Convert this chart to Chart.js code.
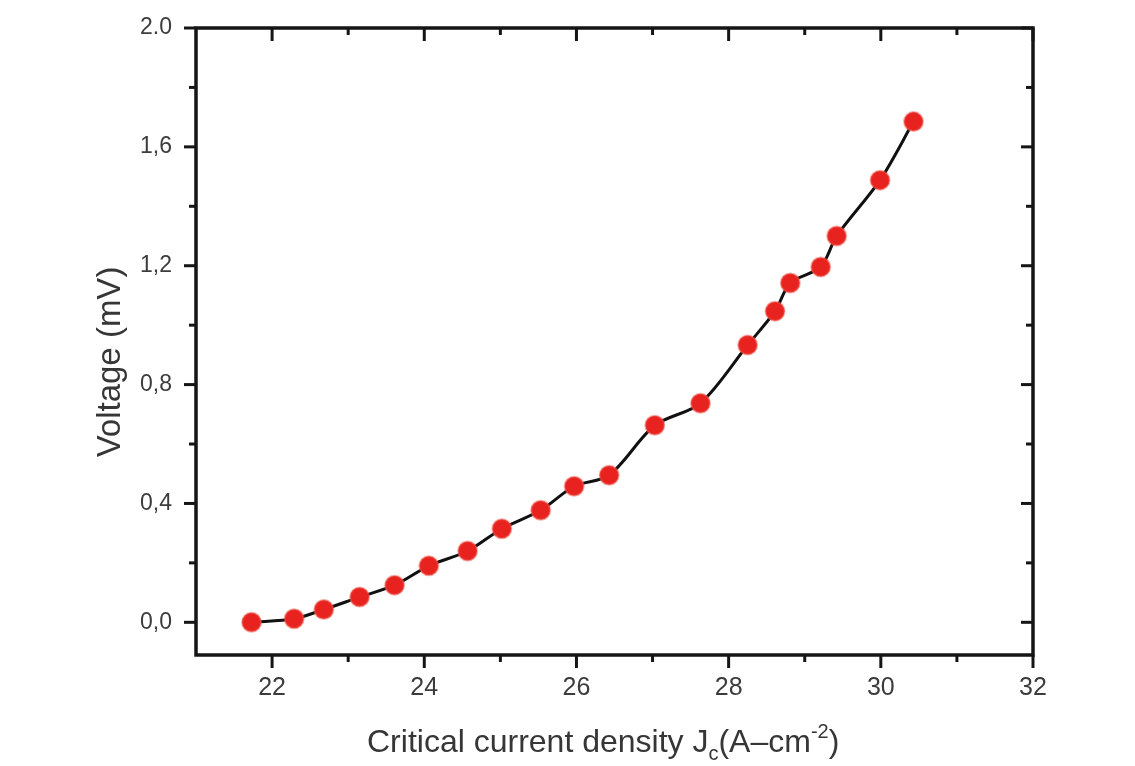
<!DOCTYPE html>
<html>
<head>
<meta charset="utf-8">
<script src="https://cdn.jsdelivr.net/npm/chart.js@4/dist/chart.umd.min.js"></script>
<style>
  html, body { margin: 0; background: #fff; }
</style>
</head>
<body>
<canvas id="myChart" width="1135" height="766"></canvas>
<script>
// measured points: critical current density vs voltage
var jc = [21.73, 22.29, 22.68, 23.15, 23.61, 24.06, 24.57, 25.02, 25.53, 25.97,
  26.43, 27.03, 27.63, 28.25, 28.61, 28.81, 29.21, 29.42, 29.99, 30.43];
var volt = [0.0, 0.012, 0.043, 0.085, 0.125, 0.19, 0.24, 0.315, 0.377, 0.458,
  0.495, 0.663, 0.737, 0.933, 1.047, 1.142, 1.196, 1.30, 1.488, 1.685];

var xTicks = [22, 24, 26, 28, 30, 32];
var xMinor = [23, 25, 27, 29, 31];
var yTicks = [0, 0.4, 0.8, 1.2, 1.6, 2.0];
var yTickText = ["0,0", "0,4", "0,8", "1,2", "1,6", "2.0"];
var yMinor = [0.2, 0.6, 1.0, 1.4, 1.8];

var points = jc.map(function (x, i) { return { x: x, y: volt[i] }; });

var FONT = "'Liberation Sans', Arial, sans-serif";

// frame, tick marks and axis titles
var frame = {
  id: 'frame',
  afterDraw: function (chart) {
    var c = chart.ctx, a = chart.chartArea;
    var sx = chart.scales.x, sy = chart.scales.y;
    c.save();
    c.strokeStyle = '#151515';
    c.lineCap = 'butt';
    function seg(x1, y1, x2, y2) { c.beginPath(); c.moveTo(x1, y1); c.lineTo(x2, y2); c.stroke(); }

    c.lineWidth = 3;
    xTicks.concat(xMinor).forEach(function (v) {
      var px = sx.getPixelForValue(v);
      var len = xTicks.indexOf(v) >= 0 ? 13 : 7;
      seg(px, a.bottom, px, a.bottom + len);
      seg(px, a.top, px, a.top + len);
    });
    yTicks.concat(yMinor).forEach(function (v) {
      var py = sy.getPixelForValue(v);
      var len = yTicks.indexOf(v) >= 0 ? 12 : 7;
      seg(a.left - len, py, a.left, py);
      seg(a.right - len, py, a.right, py);
    });

    c.lineWidth = 3.5;
    c.strokeRect(a.left, a.top, a.right - a.left, a.bottom - a.top);

    // x title with subscript / superscript
    c.fillStyle = '#363636';
    c.textBaseline = 'alphabetic';
    c.textAlign = 'left';
    var x = 367, base = 752;
    var parts = [
      ["Critical current density J", 32, 0],
      ["c", 20, 8],
      ["(A\u2013cm", 32, 0],
      ["-2", 20, -14],
      [")", 32, 0]
    ];
    parts.forEach(function (p) {
      c.font = p[1] + "px " + FONT;
      c.fillText(p[0], x, base + p[2]);
      x += c.measureText(p[0]).width;
    });

    // y title
    c.translate(120, 362);
    c.rotate(-Math.PI / 2);
    c.textAlign = 'center';
    c.font = "33px " + FONT;
    c.fillText("Voltage (mV)", 0, 0);
    c.restore();
  }
};

new Chart("myChart", {
  type: "scatter",
  data: {
    datasets: [{
      data: points,
      showLine: true,
      borderColor: "#111",
      borderWidth: 3,
      tension: 0.3,
      pointRadius: 9.5,
      pointBackgroundColor: "#e8231f",
      pointBorderColor: "rgba(240,90,80,0.5)",
      pointBorderWidth: 2
    }]
  },
  options: {
    responsive: false,
    animation: false,
    layout: { padding: { left: 0, right: 102, top: 28, bottom: 0 } },
    plugins: { legend: { display: false }, tooltip: { enabled: false } },
    scales: {
      x: {
        type: "linear",
        min: 21,
        max: 32,
        afterBuildTicks: function (s) { s.ticks = xTicks.map(function (v) { return { value: v }; }); },
        afterFit: function (s) { s.height = 111; },
        grid: { drawOnChartArea: false, tickLength: 10, tickColor: "transparent" },
        border: { display: false },
        ticks: {
          padding: 8,
          color: "#3c3c3c",
          font: { family: FONT, size: 25 },
          maxRotation: 0,
          callback: function (v) { return String(v); }
        }
      },
      y: {
        type: "linear",
        min: -0.11,
        max: 2.0,
        afterBuildTicks: function (s) { s.ticks = yTicks.map(function (v) { return { value: v }; }); },
        afterFit: function (s) { s.width = 196; },
        grid: { drawOnChartArea: false, tickLength: 10, tickColor: "transparent" },
        border: { display: false },
        ticks: {
          padding: 14,
          color: "#3c3c3c",
          font: { family: FONT, size: 23 },
          callback: function (v, i) { return yTickText[i]; }
        }
      }
    }
  },
  plugins: [frame]
});
</script>
</body>
</html>
